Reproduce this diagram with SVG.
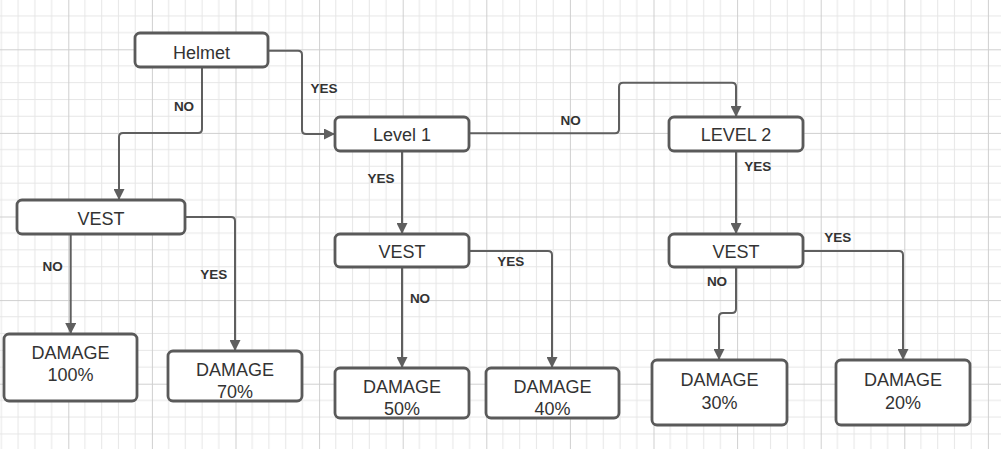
<svg xmlns="http://www.w3.org/2000/svg" width="1001" height="449" viewBox="0 0 1001 449">
<style>
.node rect{fill:#fff;stroke:#5a5a5a;stroke-width:2.8}
.node text{font-family:"Liberation Sans",Arial,sans-serif;font-size:18px;fill:#333;text-anchor:middle}
.conn path{fill:none;stroke:#5f5f5f;stroke-width:2}
.lbl{font-family:"Liberation Sans",Arial,sans-serif;font-size:13.5px;font-weight:bold;fill:#333;text-anchor:middle}
</style>
<defs>
<pattern id="grid" patternUnits="userSpaceOnUse" x="68.3" y="49.3" width="83.6" height="83.6">
<path d="M16.72 0V83.6M33.44 0V83.6M50.16 0V83.6M66.88 0V83.6M0 16.72H83.6M0 33.44H83.6M0 50.16H83.6M0 66.88H83.6" stroke="#e6e6e6" stroke-width="1" fill="none"/>
<path d="M0.5 0V83.6M0 0.5H83.6" stroke="#cfcfcf" stroke-width="1" fill="none"/>
</pattern>
<marker id="arr" viewBox="0 0 10 10" refX="10" refY="5" markerWidth="11" markerHeight="11" markerUnits="userSpaceOnUse" orient="auto">
<path d="M0,0 L10,5 L0,10 z" fill="#5f5f5f"/>
</marker>
</defs>
<rect width="1001" height="449" fill="#fff"/>
<rect width="1001" height="449" fill="url(#grid)"/>

<g id="connectors" class="conn">
<path d="M202 67V129Q202 133 198 133H123Q119 133 119 137V200" marker-end="url(#arr)"/>
<path d="M268 50.7H298Q302 50.7 302 54.7V130Q302 134 306 134H335" marker-end="url(#arr)"/>
<path d="M469 133.3H615Q619 133.3 619 129.3V86.7Q619 82.7 623 82.7H732Q736 82.7 736 86.7V117" marker-end="url(#arr)"/>
<path d="M402 151V234" marker-end="url(#arr)"/>
<path d="M469 251H548Q552 251 552 255V368" marker-end="url(#arr)"/>
<path d="M402 267V368" marker-end="url(#arr)"/>
<path d="M736 151V234" marker-end="url(#arr)"/>
<path d="M803 251H899Q903 251 903 255V360" marker-end="url(#arr)"/>
<path d="M736 267V309Q736 313 732 313H723Q719 313 719 317V360" marker-end="url(#arr)"/>
<path d="M70.7 234V334" marker-end="url(#arr)"/>
<path d="M185 217H231Q235 217 235 221V351" marker-end="url(#arr)"/>
</g>

<g id="labels">
<text class="lbl" x="184" y="110.8">NO</text>
<text class="lbl" x="324" y="92.5">YES</text>
<text class="lbl" x="570.7" y="124.8">NO</text>
<text class="lbl" x="381" y="182.5">YES</text>
<text class="lbl" x="510.7" y="265.8">YES</text>
<text class="lbl" x="420" y="302.8">NO</text>
<text class="lbl" x="757.7" y="170.8">YES</text>
<text class="lbl" x="837.7" y="241.5">YES</text>
<text class="lbl" x="717" y="285.8">NO</text>
<text class="lbl" x="52.7" y="270.5">NO</text>
<text class="lbl" x="213.7" y="278.8">YES</text>
</g>

<g id="helmet" class="node"><rect x="135" y="33" width="133" height="34" rx="5"/><text x="201.5" y="58.7">Helmet</text></g>
<g id="level1" class="node"><rect x="335" y="117" width="134" height="34" rx="5"/><text x="402" y="140.7">Level 1</text></g>
<g id="level2" class="node"><rect x="669" y="117" width="134" height="34" rx="5"/><text x="736" y="140.7">LEVEL 2</text></g>
<g id="vest-left" class="node"><rect x="17" y="200" width="168" height="34" rx="5"/><text x="101" y="225.2">VEST</text></g>
<g id="vest-mid" class="node"><rect x="335" y="234" width="134" height="33" rx="5"/><text x="402" y="258.2">VEST</text></g>
<g id="vest-right" class="node"><rect x="669" y="234" width="134" height="33" rx="5"/><text x="736" y="258.2">VEST</text></g>
<g id="damage100" class="node"><rect x="4" y="334" width="133" height="67" rx="5"/><text x="70.5" y="359.2">DAMAGE</text><text x="70.5" y="380.7">100%</text></g>
<g id="damage70" class="node"><rect x="168" y="351" width="134" height="50" rx="5"/><text x="235" y="376.2">DAMAGE</text><text x="235" y="397.7">70%</text></g>
<g id="damage50" class="node"><rect x="335" y="368" width="134" height="50" rx="5"/><text x="402" y="393.2">DAMAGE</text><text x="402" y="414.7">50%</text></g>
<g id="damage40" class="node"><rect x="486" y="368" width="133" height="50" rx="5"/><text x="552.5" y="393.2">DAMAGE</text><text x="552.5" y="414.7">40%</text></g>
<g id="damage30" class="node"><rect x="652" y="360" width="135" height="65" rx="5"/><text x="719.5" y="385.7">DAMAGE</text><text x="719.5" y="408.7">30%</text></g>
<g id="damage20" class="node"><rect x="836" y="360" width="134" height="65" rx="5"/><text x="903" y="385.7">DAMAGE</text><text x="903" y="408.7">20%</text></g>
</svg>
